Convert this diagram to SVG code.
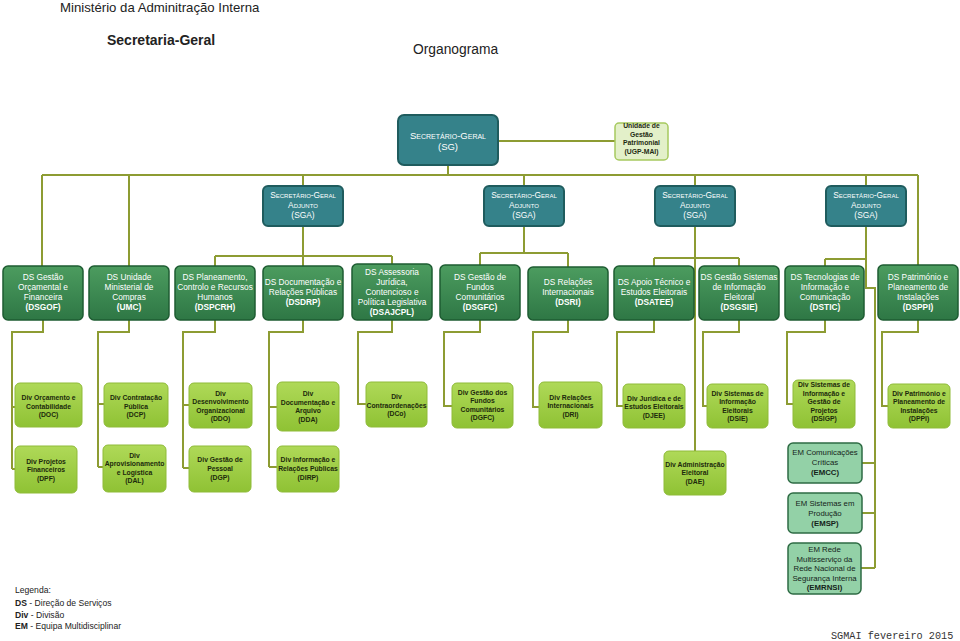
<svg xmlns="http://www.w3.org/2000/svg" width="960" height="641" viewBox="0 0 960 641">
<style>
text{font-family:"Liberation Sans",Arial,sans-serif}
.conn{fill:none;stroke:#8d9c33;stroke-width:2}
.sg{fill:#35828a;stroke:#1f5c5e;stroke-width:2}
.sgt{fill:#fff;font-size:9.5px;text-anchor:middle;font-variant:small-caps}
.sgat{fill:#fff;font-size:8.4px;text-anchor:middle;font-variant:small-caps}
.ugp{fill:#e3f0c9;stroke:#a6c95f;stroke-width:1.5}
.ugpt{fill:#1e2a12;font-size:6.8px;font-weight:bold;text-anchor:middle}
.ds{fill:url(#gds);stroke:#1e5c32;stroke-width:1.5}
.dst{fill:#fff;font-size:8.3px;text-anchor:middle}
.b{font-weight:bold}
.dv{fill:url(#gdv);stroke:#8fbb39;stroke-width:1}
.dvt{fill:#1c2a0c;font-size:6.8px;font-weight:bold;text-anchor:middle}
.em{fill:#93d1a7;stroke:#2e6b44;stroke-width:1.5}
.emt{fill:#15241a;font-size:7.8px;text-anchor:middle}
.title{fill:#222}
</style>
<defs>
<linearGradient id="gds" x1="0" y1="0" x2="0" y2="1">
<stop offset="0" stop-color="#4c9c5f"/>
<stop offset="1" stop-color="#2e7745"/>
</linearGradient>
<linearGradient id="gdv" x1="0" y1="0" x2="0" y2="1">
<stop offset="0" stop-color="#afd958"/>
<stop offset="1" stop-color="#8fc234"/>
</linearGradient>
</defs>
<rect width="960" height="641" fill="#fff"/>
<text class="title" x="60" y="11.5" font-size="13.2">Ministério da Adminitração Interna</text>
<text class="title" x="107" y="45" font-size="14" font-weight="bold">Secretaria-Geral</text>
<text class="title" x="413" y="54" font-size="13.8">Organograma</text>

<g id="connectors">
<path class="conn" d="M448,165V175M42,175H918M42,175V266M129,175V266M303,175V186M524,175V186M695,175V186M866,175V186M918,175V265"/>
<path class="conn" d="M498,141H615"/>
<path class="conn" d="M303,226V256M215,256H392M215,256V266M303,256V266M392,256V264"/>
<path class="conn" d="M524,226V253M480,253H568M480,253V265M568,253V267"/>
<path class="conn" d="M695,226V451M654,258H739M654,258V266M739,258V266"/>
<path class="conn" d="M866,226V288H875V568M825,259H866M825,259V266"/>
<path class="conn" d="M862,463H875M862,513H875M861,568H875"/>
<path class="conn" d="M43,320V332H12V469M12,407H15M12,469H15"/>
<path class="conn" d="M129,320V332H98V467M98,404H104M98,467H103"/>
<path class="conn" d="M215,320V332H183V468M183,405H189M183,468H189"/>
<path class="conn" d="M303,320V332H269V467M269,407H277M269,467H277"/>
<path class="conn" d="M392,320V332H358V404H366"/>
<path class="conn" d="M480,320V332H444V406H452"/>
<path class="conn" d="M568,320V332H533V407H539"/>
<path class="conn" d="M654,320V332H617V406H623"/>
<path class="conn" d="M739,320V332H703V406H707"/>
<path class="conn" d="M825,320V332H787V404H793"/>
<path class="conn" d="M918,320V332H882V406H888"/>
</g>

<g id="sg"><rect class="sg" x="398" y="115" width="100" height="50" rx="6"/>
<text class="sgt"><tspan x="448" y="138.5">Secretário-Geral</tspan><tspan x="448" y="149.5" style="font-variant:normal">(SG)</tspan></text></g>
<g id="ugp"><rect class="ugp" x="615" y="123" width="53" height="37" rx="4"/>
<text class="ugpt"><tspan x="641.5" y="128">Unidade de</tspan><tspan x="641.5" y="136.5">Gestão</tspan><tspan x="641.5" y="145">Patrimonial</tspan><tspan x="641.5" y="153.5">(UGP-MAI)</tspan></text></g>

<g id="sga1"><rect class="sg" x="263" y="186" width="80" height="40" rx="5"/>
<text class="sgat"><tspan x="303" y="198">Secretário-Geral</tspan><tspan x="303" y="207.5">Adjunto</tspan><tspan x="303" y="217.5" style="font-variant:normal">(SGA)</tspan></text></g>
<g id="sga2"><rect class="sg" x="484" y="186" width="80" height="40" rx="5"/>
<text class="sgat"><tspan x="524" y="198">Secretário-Geral</tspan><tspan x="524" y="207.5">Adjunto</tspan><tspan x="524" y="217.5" style="font-variant:normal">(SGA)</tspan></text></g>
<g id="sga3"><rect class="sg" x="655" y="186" width="80" height="40" rx="5"/>
<text class="sgat"><tspan x="695" y="198">Secretário-Geral</tspan><tspan x="695" y="207.5">Adjunto</tspan><tspan x="695" y="217.5" style="font-variant:normal">(SGA)</tspan></text></g>
<g id="sga4"><rect class="sg" x="826" y="186" width="80" height="40" rx="5"/>
<text class="sgat"><tspan x="866" y="198">Secretário-Geral</tspan><tspan x="866" y="207.5">Adjunto</tspan><tspan x="866" y="217.5" style="font-variant:normal">(SGA)</tspan></text></g>

<g id="dsgof"><rect class="ds" x="3" y="266" width="80" height="54" rx="5"/>
<text class="dst"><tspan x="43" y="280">DS Gestão</tspan><tspan x="43" y="290">Orçamental e</tspan><tspan x="43" y="300">Financeira</tspan><tspan x="43" y="310" class="b">(DSGOF)</tspan></text></g>
<g id="umc"><rect class="ds" x="89" y="266" width="80" height="54" rx="5"/>
<text class="dst"><tspan x="129" y="280">DS Unidade</tspan><tspan x="129" y="290">Ministerial de</tspan><tspan x="129" y="300">Compras</tspan><tspan x="129" y="310" class="b">(UMC)</tspan></text></g>
<g id="dspcrh"><rect class="ds" x="175" y="266" width="80" height="54" rx="5"/>
<text class="dst"><tspan x="215" y="280">DS Planeamento,</tspan><tspan x="215" y="290">Controlo e Recursos</tspan><tspan x="215" y="300">Humanos</tspan><tspan x="215" y="310" class="b">(DSPCRH)</tspan></text></g>
<g id="dsdrp"><rect class="ds" x="263" y="266" width="80" height="54" rx="5"/>
<text class="dst"><tspan x="303" y="285">DS Documentação e</tspan><tspan x="303" y="295">Relações Públicas</tspan><tspan x="303" y="305" class="b">(DSDRP)</tspan></text></g>
<g id="dsajcpl"><rect class="ds" x="352" y="264" width="80" height="56" rx="5"/>
<text class="dst"><tspan x="392" y="275">DS Assessoria</tspan><tspan x="392" y="285">Jurídica,</tspan><tspan x="392" y="295">Contencioso e</tspan><tspan x="392" y="305">Política Legislativa</tspan><tspan x="392" y="315" class="b">(DSAJCPL)</tspan></text></g>
<g id="dsgfc"><rect class="ds" x="440" y="265" width="80" height="55" rx="5"/>
<text class="dst"><tspan x="480" y="280">DS Gestão de</tspan><tspan x="480" y="290">Fundos</tspan><tspan x="480" y="300">Comunitários</tspan><tspan x="480" y="310" class="b">(DSGFC)</tspan></text></g>
<g id="dsri"><rect class="ds" x="528" y="267" width="80" height="53" rx="5"/>
<text class="dst"><tspan x="568" y="285">DS Relações</tspan><tspan x="568" y="295">Internacionais</tspan><tspan x="568" y="305" class="b">(DSRI)</tspan></text></g>
<g id="dsatee"><rect class="ds" x="614" y="266" width="80" height="54" rx="5"/>
<text class="dst"><tspan x="654" y="285">DS Apoio Técnico e</tspan><tspan x="654" y="295">Estudos Eleitorais</tspan><tspan x="654" y="305" class="b">(DSATEE)</tspan></text></g>
<g id="dsgsie"><rect class="ds" x="699" y="266" width="80" height="54" rx="5"/>
<text class="dst"><tspan x="739" y="280">DS Gestão Sistemas</tspan><tspan x="739" y="290">de Informação</tspan><tspan x="739" y="300">Eleitoral</tspan><tspan x="739" y="310" class="b">(DSGSIE)</tspan></text></g>
<g id="dstic"><rect class="ds" x="785" y="266" width="79" height="54" rx="5"/>
<text class="dst"><tspan x="825" y="280">DS Tecnologias de</tspan><tspan x="825" y="290">Informação e</tspan><tspan x="825" y="300">Comunicação</tspan><tspan x="825" y="310" class="b">(DSTIC)</tspan></text></g>
<g id="dsppi"><rect class="ds" x="878" y="265" width="80" height="55" rx="5"/>
<text class="dst"><tspan x="918" y="280">DS Património e</tspan><tspan x="918" y="290">Planeamento de</tspan><tspan x="918" y="300">Instalações</tspan><tspan x="918" y="310" class="b">(DSPPI)</tspan></text></g>

<g id="doc"><rect class="dv" x="15" y="383" width="67" height="44" rx="5"/>
<text class="dvt"><tspan x="48.5" y="400">Div Orçamento e</tspan><tspan x="48.5" y="408.5">Contabilidade</tspan><tspan x="48.5" y="417">(DOC)</tspan></text></g>
<g id="dcp"><rect class="dv" x="104" y="383" width="64" height="44" rx="5"/>
<text class="dvt"><tspan x="136" y="400">Div Contratação</tspan><tspan x="136" y="408.5">Pública</tspan><tspan x="136" y="417">(DCP)</tspan></text></g>
<g id="ddo"><rect class="dv" x="189" y="383" width="63" height="45" rx="5"/>
<text class="dvt"><tspan x="220.5" y="395.5">Div</tspan><tspan x="220.5" y="404">Desenvolvimento</tspan><tspan x="220.5" y="412.5">Organizacional</tspan><tspan x="220.5" y="421">(DDO)</tspan></text></g>
<g id="dda"><rect class="dv" x="277" y="382" width="62" height="49" rx="5"/>
<text class="dvt"><tspan x="308" y="396">Div</tspan><tspan x="308" y="404.5">Documentação e</tspan><tspan x="308" y="413">Arquivo</tspan><tspan x="308" y="421.5">(DDA)</tspan></text></g>
<g id="dco"><rect class="dv" x="366" y="382" width="61" height="45" rx="5"/>
<text class="dvt"><tspan x="396.5" y="399">Div</tspan><tspan x="396.5" y="407.5">Contraordenações</tspan><tspan x="396.5" y="416">(DCo)</tspan></text></g>
<g id="dgfc"><rect class="dv" x="452" y="383" width="61" height="45" rx="5"/>
<text class="dvt"><tspan x="482.5" y="394.5">Div Gestão dos</tspan><tspan x="482.5" y="403">Fundos</tspan><tspan x="482.5" y="411.5">Comunitários</tspan><tspan x="482.5" y="420">(DGFC)</tspan></text></g>
<g id="dri"><rect class="dv" x="539" y="382" width="63" height="46" rx="5"/>
<text class="dvt"><tspan x="570.5" y="399.5">Div Relações</tspan><tspan x="570.5" y="408">Internacionais</tspan><tspan x="570.5" y="416.5">(DRI)</tspan></text></g>
<g id="djee"><rect class="dv" x="623" y="384" width="62" height="44" rx="5"/>
<text class="dvt"><tspan x="654" y="400.5">Div Jurídica e de</tspan><tspan x="654" y="409">Estudos Eleitorais</tspan><tspan x="654" y="417.5">(DJEE)</tspan></text></g>
<g id="dsie"><rect class="dv" x="707" y="384" width="61" height="44" rx="5"/>
<text class="dvt"><tspan x="737.5" y="395.5">Div Sistemas de</tspan><tspan x="737.5" y="404">Informação</tspan><tspan x="737.5" y="412.5">Eleitorais</tspan><tspan x="737.5" y="421">(DSIE)</tspan></text></g>
<g id="dsigp"><rect class="dv" x="793" y="380" width="62" height="48" rx="5"/>
<text class="dvt"><tspan x="824" y="387">Div Sistemas de</tspan><tspan x="824" y="395.5">Informação e</tspan><tspan x="824" y="404">Gestão de</tspan><tspan x="824" y="412.5">Projetos</tspan><tspan x="824" y="421">(DSIGP)</tspan></text></g>
<g id="dppi"><rect class="dv" x="888" y="384" width="62" height="44" rx="5"/>
<text class="dvt"><tspan x="919" y="395.5">Div Património e</tspan><tspan x="919" y="404">Planeamento de</tspan><tspan x="919" y="412.5">Instalações</tspan><tspan x="919" y="421">(DPPI)</tspan></text></g>

<g id="dpf"><rect class="dv" x="15" y="446" width="62" height="47" rx="5"/>
<text class="dvt"><tspan x="46" y="463.5">Div Projetos</tspan><tspan x="46" y="472">Financeiros</tspan><tspan x="46" y="480.5">(DPF)</tspan></text></g>
<g id="dal"><rect class="dv" x="103" y="445" width="63" height="47" rx="5"/>
<text class="dvt"><tspan x="134.5" y="457.5">Div</tspan><tspan x="134.5" y="466">Aprovisionamento</tspan><tspan x="134.5" y="474.5">e Logística</tspan><tspan x="134.5" y="483">(DAL)</tspan></text></g>
<g id="dgp"><rect class="dv" x="189" y="446" width="62" height="46" rx="5"/>
<text class="dvt"><tspan x="220" y="461.5">Div Gestão de</tspan><tspan x="220" y="470.5">Pessoal</tspan><tspan x="220" y="479.5">(DGP)</tspan></text></g>
<g id="dirp"><rect class="dv" x="277" y="446" width="62" height="46" rx="5"/>
<text class="dvt"><tspan x="308" y="461.5">Div Informação e</tspan><tspan x="308" y="470.5">Relações Públicas</tspan><tspan x="308" y="479.5">(DIRP)</tspan></text></g>
<g id="dae"><rect class="dv" x="664" y="451" width="62" height="44" rx="5"/>
<text class="dvt"><tspan x="695" y="466.5">Div Administração</tspan><tspan x="695" y="475">Eleitoral</tspan><tspan x="695" y="483.5">(DAE)</tspan></text></g>

<g id="emcc"><rect class="em" x="788" y="443" width="74" height="40" rx="5"/>
<text class="emt"><tspan x="825" y="455">EM Comunicações</tspan><tspan x="825" y="465">Críticas</tspan><tspan x="825" y="475" class="b">(EMCC)</tspan></text></g>
<g id="emsp"><rect class="em" x="788" y="493" width="74" height="40" rx="5"/>
<text class="emt"><tspan x="825" y="506">EM Sistemas em</tspan><tspan x="825" y="516">Produção</tspan><tspan x="825" y="526" class="b">(EMSP)</tspan></text></g>
<g id="emrnsi"><rect class="em" x="788" y="543" width="73" height="51" rx="5"/>
<text class="emt"><tspan x="824.5" y="552">EM Rede</tspan><tspan x="824.5" y="561.5">Multisserviço da</tspan><tspan x="824.5" y="571">Rede Nacional de</tspan><tspan x="824.5" y="580.5">Segurança Interna</tspan><tspan x="824.5" y="590" class="b">(EMRNSI)</tspan></text></g>

<g id="legend" font-size="8.6" fill="#222">
<text x="15" y="593">Legenda:</text>
<text x="15" y="606"><tspan font-weight="bold">DS</tspan> - Direção de Serviços</text>
<text x="15" y="617.5"><tspan font-weight="bold">Div</tspan> - Divisão</text>
<text x="15" y="629"><tspan font-weight="bold">EM</tspan> - Equipa Multidisciplinar</text>
</g>
<text x="831" y="639" style="font-family:'Liberation Mono',monospace" font-size="10.2" fill="#333">SGMAI fevereiro 2015</text>
</svg>
